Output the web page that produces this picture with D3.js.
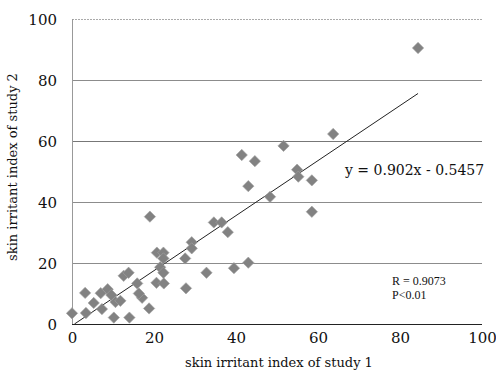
<html>
<head>
<style>
body { margin: 0; background: #fff; }
text { font-family: 'DejaVu Serif', serif; fill: #111; }
.tick text { font-size: 15px; }
.title { font-size: 13px; }
.note { font-family: 'Liberation Serif', serif; font-size: 12px; }
</style>
<script src="https://d3js.org/d3.v7.min.js"></script>
</head>
<body>
<svg id="chart" width="496" height="373"></svg>
<script>

// study 1 / study 2 irritant indices
var study1 = [84.4, 63.7, 51.6, 41.4, 44.6, 54.9, 55.2, 58.5, 43.0, 48.3, 58.5, 39.5, 43.0, 38.0,
	19.0, 34.6, 36.5, 29.2, 29.2, 20.7, 22.3, 22.3, 27.6, 21.5, 22.3, 32.8, 20.6, 22.4, 27.8,
	17.1, 18.8, 0.0, 3.4, 3.2, 5.3, 7.3, 7.0, 8.7, 9.6, 10.6, 11.8, 10.2, 14.0, 12.6, 13.8, 15.9, 16.3];
var study2 = [90.5, 62.3, 58.4, 55.4, 53.4, 50.6, 48.3, 47.1, 45.2, 41.7, 36.8, 18.3, 20.1, 30.1,
	35.2, 33.3, 33.3, 26.8, 24.8, 23.4, 23.4, 21.5, 21.5, 18.6, 16.8, 16.8, 13.5, 13.3, 11.7,
	8.6, 5.1, 3.5, 3.6, 10.2, 6.9, 4.9, 10.1, 11.4, 9.5, 7.2, 7.6, 2.1, 2.1, 15.8, 16.8, 13.3, 10.0];
var ticks = [0, 20, 40, 60, 80, 100];
var slope = 0.902, intercept = -0.5457;
var fitRange = [0.6, 84.4];

var svg = d3.select('#chart');
var mLeft = 72, mRight = 482, mTop = 19, mBottom = 324;

var x = d3.scaleLinear().domain([0, 100]).range([mLeft, mRight]);
var y = d3.scaleLinear().domain([0, 100]).range([mBottom, mTop]);

// horizontal gridlines
svg.selectAll('.grid')
	.data(ticks.slice(1))
	.enter()
	.append('line')
	.attr('x1', mLeft).attr('x2', mRight)
	.attr('y1', function(d) { return y(d) + 0.5; })
	.attr('y2', function(d) { return y(d) + 0.5; })
	.attr('stroke', function(d) { return d == 100 ? '#aaa' : (d == 60 ? '#777' : '#8c8c8c'); })
	.attr('stroke-width', 1)
	.attr('stroke-dasharray', function(d) { return d == 100 ? '2,1' : null; });

// left axis line
svg.append('line')
	.attr('x1', mLeft + 0.5).attr('x2', mLeft + 0.5)
	.attr('y1', mTop).attr('y2', mBottom)
	.attr('stroke', '#999');

var yAxis = svg.append('g')
	.attr('transform', 'translate(' + (mLeft - 15) + ',0)')
	.call(d3.axisLeft(y).tickValues(ticks).tickSize(0).tickPadding(0));
yAxis.select('.domain').remove();
yAxis.selectAll('text').attr('dy', '0.36em');

var xAxis = svg.append('g')
	.attr('transform', 'translate(0,' + (mBottom + 8) + ')')
	.call(d3.axisBottom(x).tickValues(ticks).tickSize(0).tickPadding(0));
xAxis.select('.domain').remove();
xAxis.selectAll('text').attr('dy', '0.75em');

// bottom axis line
svg.append('line')
	.attr('x1', mLeft).attr('x2', mRight)
	.attr('y1', mBottom + 0.5).attr('y2', mBottom + 0.5)
	.attr('stroke', '#222');

// regression line
svg.append('line')
	.attr('x1', x(fitRange[0])).attr('y1', y(slope * fitRange[0] + intercept))
	.attr('x2', x(fitRange[1])).attr('y2', y(slope * fitRange[1] + intercept))
	.attr('stroke', '#222')
	.attr('stroke-width', 1);

// diamonds
var diamond = d3.symbol().type(d3.symbolSquare).size(64);
svg.selectAll('.pt')
	.data(study1)
	.enter()
	.append('path')
	.attr('d', diamond)
	.attr('transform', function(d, i) { return 'translate(' + x(d) + ',' + y(study2[i]) + ') rotate(45)'; })
	.attr('fill', '#828282')
	.attr('stroke', '#a0a0a0')
	.attr('stroke-width', 0.6);

svg.append('text')
	.attr('class', 'title')
	.attr('x', (mLeft + mRight) / 2 + 2)
	.attr('y', 367)
	.attr('text-anchor', 'middle')
	.text('skin irritant index of study 1');

svg.append('text')
	.attr('class', 'title')
	.attr('transform', 'translate(17,' + 167 + ') rotate(-90)')
	.attr('text-anchor', 'middle')
	.text('skin irritant index of study 2');

svg.append('text')
	.attr('x', 345)
	.attr('y', 175)
	.style('font-size', '14px')
	.text('y = 0.902x - 0.5457');

svg.append('text')
	.attr('class', 'note')
	.attr('x', 392)
	.attr('y', 285)
	.text('R = 0.9073');

svg.append('text')
	.attr('class', 'note')
	.attr('x', 392)
	.attr('y', 299)
	.text('P<0.01');

</script>
</body>
</html>
